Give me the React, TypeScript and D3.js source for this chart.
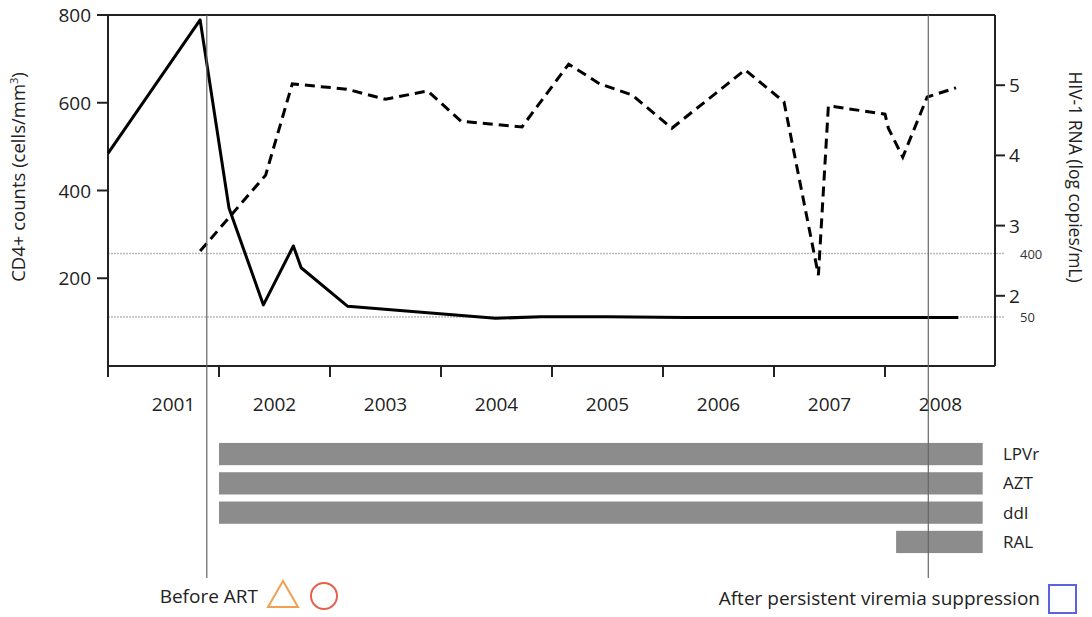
import React from 'react';
import * as d3 from 'd3';

// CD4+ counts (dashed, left axis)
const cd4Years = [2001.83, 2002.42, 2002.66, 2003.15, 2003.5, 2003.88, 2004.18, 2004.73, 2005.15, 2005.43, 2005.72, 2006.08, 2006.74, 2007.09, 2007.4, 2007.49, 2008.0, 2008.03, 2008.16, 2008.38, 2008.64];
const cd4Values = [262, 435, 643, 631, 608, 627, 558, 545, 688, 643, 618, 542, 675, 602, 207, 593, 574, 542, 476, 613, 634];

// HIV-1 RNA, log copies/mL (solid, right axis)
const rnaYears = [2001.0, 2001.83, 2002.09, 2002.4, 2002.67, 2002.74, 2003.16, 2004.49, 2004.9, 2005.5, 2006.2, 2008.66];
const rnaLog = [4.03, 5.93, 3.25, 1.87, 2.71, 2.4, 1.85, 1.68, 1.7, 1.7, 1.69, 1.69];

const years = [2001, 2002, 2003, 2004, 2005, 2006, 2007, 2008];
const leftTicks = [200, 400, 600, 800];
const rightTicks = [2, 3, 4, 5];
const thresholdCopies = [400, 50];

const drugs = ['LPVr', 'AZT', 'ddI', 'RAL'];
const drugStart = [2002.0, 2002.0, 2002.0, 2008.1];
const drugEnd = [2008.88, 2008.88, 2008.88, 2008.88];

const eventYears = [2001.89, 2008.39];

const W = 1092;
const H = 617;
const font = '"Open Sans", "Lato", sans-serif';

export default function App() {
  const x = d3.scaleLinear().domain([2001, 2009]).range([108, 996]);
  const yL = d3.scaleLinear().domain([0, 800]).range([366, 15]);
  const yR = d3.scaleLinear().domain([1, 6]).range([366, 15]);
  const band = d3.scaleBand().domain(drugs).range([440, 556]).paddingInner(0.24).paddingOuter(0.1);

  const cd4Line = d3.line<number>()
    .x((_, i) => x(cd4Years[i]))
    .y(d => yL(d))(cd4Values);
  const rnaLine = d3.line<number>()
    .x((_, i) => x(rnaYears[i]))
    .y(d => yR(d))(rnaLog);

  const left = x.range()[0];
  const right = 995;
  const top = yL(800);
  const bottom = 366;

  return (
    <svg width={W} height={H} style={{ position: 'absolute', left: 0, top: 0 }} fontFamily={font}>
      <rect width={W} height={H} fill="#fff" />

      {/* threshold lines */}
      {thresholdCopies.map(c => (
        <g key={c}>
          <line x1={left} x2={right + 10} y1={yR(Math.log10(c))} y2={yR(Math.log10(c))}
            stroke="#bbb" strokeWidth={1.6} strokeDasharray="2,1" />
          <text x={1020} y={yR(Math.log10(c)) + 5} fontSize={13} fill="#333">{c}</text>
        </g>
      ))}

      {/* frame */}
      <line x1={97} x2={right} y1={top} y2={top} stroke="#222" strokeWidth={2} />
      <line x1={right} x2={right} y1={top} y2={bottom} stroke="#222" strokeWidth={2} />
      <line x1={left} x2={left} y1={top} y2={bottom} stroke="#222" strokeWidth={2} />
      <line x1={left} x2={right} y1={bottom} y2={bottom} stroke="#222" strokeWidth={2} />

      {/* left axis */}
      {leftTicks.map(t => (
        <g key={t}>
          <line x1={97} x2={left} y1={yL(t)} y2={yL(t)} stroke="#222" strokeWidth={2} />
          <text x={91} y={yL(t) + 7} textAnchor="end" fontSize={19} fill="#222">{t}</text>
        </g>
      ))}
      <text transform={`translate(25,177) rotate(-90)`} textAnchor="middle" fontSize={18.5} fill="#222">
        CD4+ counts (cells/mm<tspan dy={-7} fontSize={11}>3</tspan><tspan dy={7}>)</tspan>
      </text>

      {/* right axis */}
      {rightTicks.map(t => (
        <g key={t}>
          <line x1={right} x2={right + 10} y1={yR(t)} y2={yR(t)} stroke="#222" strokeWidth={2} />
          <text x={1009} y={yR(t) + 7} fontSize={19} fill="#222">{t}</text>
        </g>
      ))}
      <text transform={`translate(1069,177) rotate(90)`} textAnchor="middle" fontSize={17.5} fill="#222">
        HIV-1 RNA (log copies/mL)
      </text>

      {/* x axis ticks */}
      {years.map(yr => (
        <g key={yr}>
          <line x1={x(yr)} x2={x(yr)} y1={bottom} y2={bottom + 11} stroke="#222" strokeWidth={2} />
          <text x={x(yr + 0.5) + (yr === 2001 ? 10 : 0)} y={411} textAnchor="middle" fontSize={19} fill="#222">{yr}</text>
        </g>
      ))}

      {/* lines */}
      <path d={rnaLine ?? ''} fill="none" stroke="#000" strokeWidth={3} strokeLinejoin="round" />
      <path d={cd4Line ?? ''} fill="none" stroke="#000" strokeWidth={3} strokeDasharray="10,6" />

      {/* treatment bars */}
      {drugs.map((d, i) => (
        <g key={d}>
          <rect x={x(drugStart[i])} y={band(d)} width={x(drugEnd[i]) - x(drugStart[i])} height={band.bandwidth()}
            fill="#8c8c8c" />
          <text x={1003} y={(band(d) ?? 0) + band.bandwidth() / 2 + 6} fontSize={17} fill="#222">{d}</text>
        </g>
      ))}

      {/* event markers */}
      {eventYears.map(e => (
        <line key={e} x1={x(e)} x2={x(e)} y1={top} y2={578} stroke="#666" strokeWidth={1.2} />
      ))}

      {/* legend */}
      <text x={258} y={603} textAnchor="end" fontSize={19} fill="#222">Before ART</text>
      <path d="M283,581 L298,607 L268,607 Z" fill="none" stroke="#f0a050" strokeWidth={2} />
      <circle cx={324} cy={596} r={13} fill="none" stroke="#e8604c" strokeWidth={2} />
      <text x={1040} y={605} textAnchor="end" fontSize={19} fill="#222">After persistent viremia suppression</text>
      <rect x={1049} y={585} width={27} height={28} fill="none" stroke="#5a64e0" strokeWidth={2} />
    </svg>
  );
}
